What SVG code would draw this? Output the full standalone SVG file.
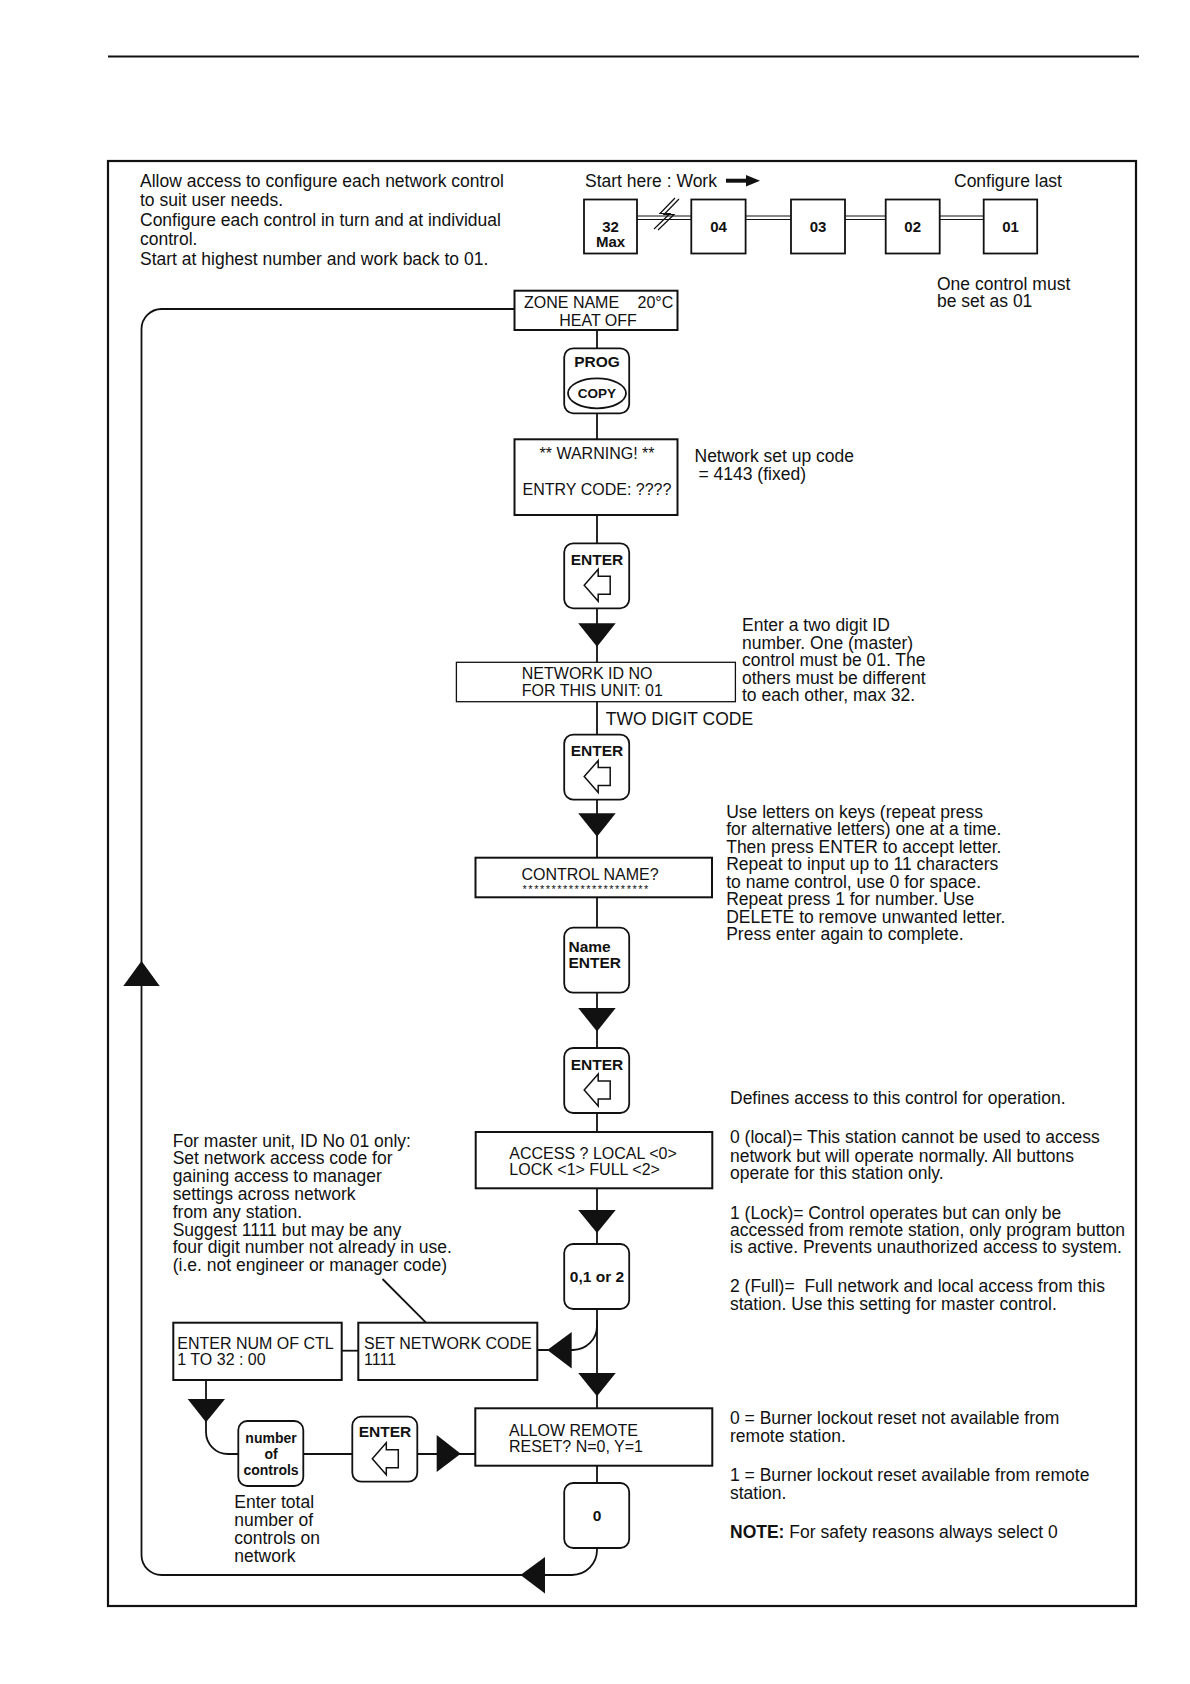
<svg xmlns="http://www.w3.org/2000/svg" xmlns:xlink="http://www.w3.org/1999/xlink" width="1190" height="1684" viewBox="0 0 1190 1684">
<style>
text{font-family:"Liberation Sans",Arial,Helvetica,sans-serif;fill:#111}
.t{font-size:17.5px}
.bx{font-size:16px}
.k{font-size:15.5px;font-weight:bold}
.ks{font-size:14px;font-weight:bold}
.box{fill:#fff;stroke:#111;stroke-width:2}
.key{fill:#fff;stroke:#111;stroke-width:1.8}
.ln{fill:none;stroke:#111;stroke-width:1.8}
.tri{fill:#111;stroke:none}
.dl{fill:none;stroke:#111;stroke-width:1.2}
</style>
<defs>
<path id="earrow" d="M20 42 L34 26 L34 33 L46 33 L46 51 L34 51 L34 58 Z" fill="#fff" stroke="#111" stroke-width="1.5" stroke-linejoin="miter"/>
</defs>
<rect width="1190" height="1684" fill="#fff"/>
<line x1="108" y1="56.5" x2="1139" y2="56.5" stroke="#111" stroke-width="2.2"/>
<rect x="108" y="161" width="1028" height="1445" fill="none" stroke="#111" stroke-width="2.2"/>

<g id="intro">
<text class="t"><tspan x="140" y="187">Allow access to configure each network control</tspan><tspan x="140" y="206.4">to suit user needs.</tspan><tspan x="140" y="225.8">Configure each control in turn and at individual</tspan><tspan x="140" y="245.2">control.</tspan><tspan x="140" y="264.6">Start at highest number and work back to 01.</tspan></text>
</g>

<g id="network-chain">
<text class="t" x="585" y="187">Start here : Work</text>
<line x1="726" y1="180.7" x2="749" y2="180.7" stroke="#111" stroke-width="4"/>
<polygon class="tri" points="746,175 760,180.7 746,186.5"/>
<text class="t" x="954" y="187">Configure last</text>
<path class="dl" d="M636.5 216 H691.3 M636.5 219.5 H691.3 M745.6 216 H791 M745.6 219.5 H791 M845 216 H885.7 M845 219.5 H885.7 M939.6 216 H983.7 M939.6 219.5 H983.7"/>
<path class="dl" d="M675 198 L660 213.5 L670 213.5 L654 229 M679 199 L664 214.5 L674 214.5 L658 230"/>
<rect class="box" x="584" y="199.5" width="53" height="54" style="stroke-width:1.8"/>
<rect class="box" x="691.3" y="199.5" width="54.3" height="54" style="stroke-width:1.8"/>
<rect class="box" x="791" y="199.5" width="54" height="54" style="stroke-width:1.8"/>
<rect class="box" x="885.7" y="199.5" width="54" height="54" style="stroke-width:1.8"/>
<rect class="box" x="983.7" y="199.5" width="53.5" height="54" style="stroke-width:1.8"/>
<text class="k" text-anchor="middle" style="font-size:15px"><tspan x="610.5" y="231.5">32</tspan><tspan x="610.5" y="247">Max</tspan></text>
<text class="k" x="718.5" y="231.5" text-anchor="middle" style="font-size:15px">04</text>
<text class="k" x="818" y="231.5" text-anchor="middle" style="font-size:15px">03</text>
<text class="k" x="912.7" y="231.5" text-anchor="middle" style="font-size:15px">02</text>
<text class="k" x="1010.5" y="231.5" text-anchor="middle" style="font-size:15px">01</text>
<text class="t"><tspan x="937" y="289.5">One control must</tspan><tspan x="937" y="307.2">be set as 01</tspan></text>
</g>

<g id="connectors">
<path class="ln" d="M514.5 309 L161.5 309 A20 20 0 0 0 141.5 329 L141.5 1555 A20 20 0 0 0 161.5 1575 L572 1575 A25 25 0 0 0 597 1550 L597 1548"/>
<path class="ln" d="M597 330 V348 M597 413 V439.3 M597 515 V543.3 M597 608.3 V662.3 M597 701.7 V734.6 M597 799.6 V857.7 M597 897.3 V928 M597 993 V1048 M597 1113 V1132 M597 1188.3 V1244 M597 1309 V1408.3 M597 1465.7 V1483"/>
<path class="ln" d="M597 1320 L597 1326 A24 24 0 0 1 573 1350 L537.3 1350"/>
<path class="ln" d="M341.7 1350.7 H358.3"/>
<path class="ln" d="M382.5 1279 L426 1322.7"/>
<path class="ln" d="M206 1380 L206 1432 A22 22 0 0 0 228 1454 L238.3 1454"/>
<path class="ln" d="M303.3 1454 H352.3 M417.3 1454 H475"/>
<polygon class="tri" points="578.2,623.3 615.7,623.3 597,646.7"/>
<polygon class="tri" points="578.2,813.3 615.7,813.3 597,836.7"/>
<polygon class="tri" points="578.2,1008 615.7,1008 597,1031.5"/>
<polygon class="tri" points="578.2,1210 615.7,1210 597,1233"/>
<polygon class="tri" points="578.2,1373 615.7,1373 597,1396.3"/>
<polygon class="tri" points="571.7,1332 571.7,1368.5 547.3,1350"/>
<polygon class="tri" points="187.7,1399 225,1399 206,1422.3"/>
<polygon class="tri" points="436.7,1435 436.7,1472 460.7,1453.7"/>
<polygon class="tri" points="545,1557 545,1593.5 520.5,1575"/>
<polygon class="tri" points="141.5,961 123.3,986 159.7,986"/>
</g>

<g id="zone-name">
<rect class="box" x="514.5" y="290.7" width="163" height="39.3"/>
<text class="bx"><tspan x="524" y="307.5">ZONE NAME</tspan><tspan x="637.5" y="307.5">20°C</tspan></text>
<text class="bx" x="598" y="325.8" text-anchor="middle">HEAT OFF</text>
</g>

<g id="prog-key">
<rect class="key" x="564.2" y="348.3" width="65" height="65" rx="9"/>
<text class="k" x="597" y="367.2" text-anchor="middle">PROG</text>
<ellipse cx="597" cy="393.3" rx="29" ry="15" fill="#fff" stroke="#111" stroke-width="1.8"/>
<text class="k" x="597" y="398.2" text-anchor="middle" style="font-size:13.5px">COPY</text>
</g>

<g id="warning">
<rect class="box" x="514.5" y="439.3" width="163" height="75.7"/>
<text class="bx" x="597" y="458.8" text-anchor="middle">** WARNING! **</text>
<text class="bx" x="597" y="495.2" text-anchor="middle">ENTRY CODE: ????</text>
<text class="t"><tspan x="694.5" y="461.5">Network set up code</tspan><tspan x="698.5" y="479.5">= 4143 (fixed)</tspan></text>
</g>

<g id="enter-key-1">
<rect class="key" x="564.2" y="543.3" width="65" height="65" rx="9"/>
<text class="k" x="597" y="564.8" text-anchor="middle">ENTER</text>
<use xlink:href="#earrow" x="564.2" y="543.3"/>
</g>

<g id="network-id">
<rect class="box" x="456.4" y="662.3" width="279" height="39.4" style="stroke-width:1.3"/>
<text class="bx"><tspan x="521.8" y="679">NETWORK ID NO</tspan><tspan x="521.8" y="695.8">FOR THIS UNIT: 01</tspan></text>
<text class="t"><tspan x="742" y="631">Enter a two digit ID</tspan><tspan x="742" y="648.5">number. One (master)</tspan><tspan x="742" y="666">control must be 01. The</tspan><tspan x="742" y="683.5">others must be different</tspan><tspan x="742" y="701">to each other, max 32.</tspan></text>
<text class="t" x="605.7" y="724.6">TWO DIGIT CODE</text>
</g>

<g id="enter-key-2">
<rect class="key" x="564.2" y="734.6" width="65" height="65" rx="9"/>
<text class="k" x="597" y="756.1" text-anchor="middle">ENTER</text>
<use xlink:href="#earrow" x="564.2" y="734.6"/>
</g>

<g id="control-name">
<rect class="box" x="475.5" y="857.7" width="236.5" height="39.6"/>
<text class="bx" x="521.4" y="879.7">CONTROL NAME?</text>
<text x="522.6" y="893" style="font-size:11px;letter-spacing:1.5px">**********************</text>
<text class="t"><tspan x="726.2" y="817.7">Use letters on keys (repeat press</tspan><tspan x="726.2" y="835.2">for alternative letters) one at a time.</tspan><tspan x="726.2" y="852.7">Then press ENTER to accept letter.</tspan><tspan x="726.2" y="870.2">Repeat to input up to 11 characters</tspan><tspan x="726.2" y="887.7">to name control, use 0 for space.</tspan><tspan x="726.2" y="905.2">Repeat press 1 for number. Use</tspan><tspan x="726.2" y="922.7">DELETE to remove unwanted letter.</tspan><tspan x="726.2" y="940.2">Press enter again to complete.</tspan></text>
</g>

<g id="name-enter-key">
<rect class="key" x="564.2" y="927.7" width="65" height="65" rx="9"/>
<text class="k"><tspan x="568.5" y="952.2">Name</tspan><tspan x="568.5" y="968.2">ENTER</tspan></text>
</g>

<g id="enter-key-3">
<rect class="key" x="564.2" y="1048" width="65" height="65" rx="9"/>
<text class="k" x="597" y="1069.5" text-anchor="middle">ENTER</text>
<use xlink:href="#earrow" x="564.2" y="1048"/>
</g>

<g id="access">
<rect class="box" x="475.7" y="1132" width="236.6" height="56.3"/>
<text class="bx"><tspan x="509.3" y="1159">ACCESS ? LOCAL &lt;0&gt;</tspan><tspan x="509.3" y="1175">LOCK &lt;1&gt; FULL &lt;2&gt;</tspan></text>
<text class="t" x="730" y="1104.3">Defines access to this control for operation.</text>
<text class="t"><tspan x="730" y="1143.3">0 (local)= This station cannot be used to access</tspan><tspan x="730" y="1161.5">network but will operate normally. All buttons</tspan><tspan x="730" y="1178.7">operate for this station only.</tspan></text>
<text class="t"><tspan x="730" y="1218.7">1 (Lock)= Control operates but can only be</tspan><tspan x="730" y="1236">accessed from remote station, only program button</tspan><tspan x="730" y="1253.3">is active. Prevents unauthorized access to system.</tspan></text>
<text class="t" xml:space="preserve"><tspan x="730" y="1292">2 (Full)=  Full network and local access from this</tspan><tspan x="730" y="1310">station. Use this setting for master control.</tspan></text>
</g>

<g id="option-key">
<rect class="key" x="564.2" y="1244" width="65" height="65" rx="9"/>
<text class="k" x="597" y="1282.3" text-anchor="middle">0,1 or 2</text>
</g>

<g id="master-note">
<text class="t"><tspan x="172.7" y="1146.6">For master unit, ID No 01 only:</tspan><tspan x="172.7" y="1164.4">Set network access code for</tspan><tspan x="172.7" y="1182.1">gaining access to manager</tspan><tspan x="172.7" y="1199.9">settings across network</tspan><tspan x="172.7" y="1217.7">from any station.</tspan><tspan x="172.7" y="1235.5">Suggest 1111 but may be any</tspan><tspan x="172.7" y="1253.2">four digit number not already in use.</tspan><tspan x="172.7" y="1271">(i.e. not engineer or manager code)</tspan></text>
</g>

<g id="enter-num">
<rect class="box" x="173.3" y="1322.7" width="168.4" height="57.3"/>
<text class="bx"><tspan x="177.3" y="1348.5">ENTER NUM OF CTL</tspan><tspan x="177.3" y="1364.8">1 TO 32 : 00</tspan></text>
</g>

<g id="set-network-code">
<rect class="box" x="358.3" y="1322.7" width="179" height="57.3"/>
<text class="bx"><tspan x="364" y="1348.5">SET NETWORK CODE</tspan><tspan x="364" y="1364.8">1111</tspan></text>
</g>

<g id="number-key">
<rect class="key" x="238.3" y="1421" width="65" height="65" rx="9"/>
<text class="ks" text-anchor="middle"><tspan x="271" y="1442.7">number</tspan><tspan x="271" y="1459.3">of</tspan><tspan x="271" y="1475">controls</tspan></text>
<text class="t"><tspan x="234.3" y="1508.3">Enter total</tspan><tspan x="234.3" y="1526">number of</tspan><tspan x="234.3" y="1543.7">controls on</tspan><tspan x="234.3" y="1561.7">network</tspan></text>
</g>

<g id="enter-key-4">
<rect class="key" x="352.3" y="1416.7" width="65" height="65" rx="9"/>
<text class="k" x="385" y="1437.2" text-anchor="middle">ENTER</text>
<use xlink:href="#earrow" x="352.3" y="1416.7"/>
</g>

<g id="allow-remote">
<rect class="box" x="475.3" y="1408.3" width="237" height="57.4"/>
<text class="bx"><tspan x="509" y="1435.8">ALLOW REMOTE</tspan><tspan x="509" y="1451.8">RESET? N=0, Y=1</tspan></text>
<text class="t"><tspan x="730" y="1424.3">0 = Burner lockout reset not available from</tspan><tspan x="730" y="1442">remote station.</tspan></text>
<text class="t"><tspan x="730" y="1481">1 = Burner lockout reset available from remote</tspan><tspan x="730" y="1498.7">station.</tspan></text>
<text class="t" x="730" y="1537.7"><tspan font-weight="bold">NOTE:</tspan> For safety reasons always select 0</text>
</g>

<g id="zero-key">
<rect class="key" x="564.2" y="1483" width="65" height="65" rx="9"/>
<text class="k" x="597" y="1521" text-anchor="middle">0</text>
</g>
</svg>
